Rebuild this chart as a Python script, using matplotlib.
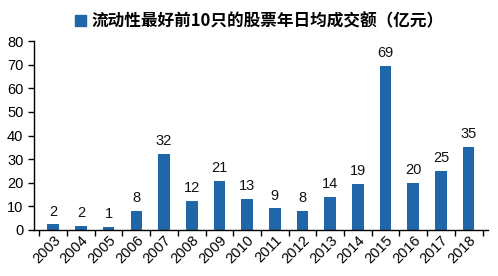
import matplotlib
matplotlib.use("Agg")
import matplotlib.pyplot as plt
from matplotlib.patches import Patch

plt.rcParams['font.family'] = ['Liberation Sans', 'Noto Sans CJK SC', 'DejaVu Sans']

years = ['2003', '2004', '2005', '2006', '2007', '2008', '2009', '2010', '2011',
         '2012', '2013', '2014', '2015', '2016', '2017', '2018']
values = [2.3, 1.7, 1.1, 8.2, 32.2, 12.4, 20.6, 13.3, 9.1, 8.2, 13.8, 19.3, 69.3, 20.0, 25.0, 35.0]
labels = ['2', '2', '1', '8', '32', '12', '21', '13', '9', '8', '14', '19', '69', '20', '25', '35']
legend_label = '流动性最好前10只的股票年日均成交额（亿元）'
color = '#1F67A8'

fig = plt.figure(figsize=(4.98, 2.76), dpi=100)
ax = fig.add_axes([0.068, 0.167, 0.912, 0.684])
x = list(range(len(years)))
ax.bar(x, values, width=0.42, color=color)
for xi, v, lab in zip(x, values, labels):
    ax.text(xi, v + 2.5, lab, ha='center', va='bottom', fontsize=10.5, color='#111111')

ax.set_xlim(-0.7, len(years) - 0.3)
ax.set_ylim(0, 80)
ax.set_yticks(range(0, 81, 10))
ax.set_xticks([i - 0.5 for i in range(len(years) + 1)], minor=False)
ax.set_xticklabels([''] * (len(years) + 1))
ax.set_xticks(x, minor=True)
ax.set_xticklabels(years, minor=True, rotation=45, ha='right', rotation_mode='anchor', fontsize=10.5)
ax.tick_params(axis='x', which='minor', length=0, pad=2)
ax.tick_params(axis='x', which='major', length=4, direction='out', width=1)
ax.tick_params(axis='y', length=4, direction='out', labelsize=10.5, width=1)
for s in ['top', 'right']:
    ax.spines[s].set_visible(False)
ax.spines['left'].set_linewidth(1)
ax.spines['bottom'].set_linewidth(1)

fig.legend(handles=[Patch(color=color)], labels=[legend_label], loc='upper center',
           bbox_to_anchor=(0.52, 1.01), frameon=False, handlelength=0.7, handleheight=0.7,
           handletextpad=0.3, prop={'family': ['Noto Sans CJK SC'], 'size': 12, 'weight': 'bold'})

fig.savefig('out.png', dpi=100)
